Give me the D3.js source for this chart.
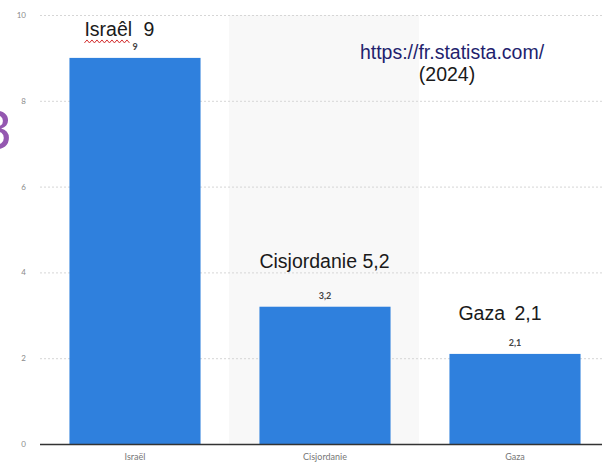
<!DOCTYPE html>
<meta charset="utf-8" />
<script src="https://d3js.org/d3.v7.min.js"></script>
<style>
	body { margin: 0; background: #fff; }
	svg { display: block; }
</style>
<div id="my_dataviz"></div>
<script>
	// data
	var categories = ["Israël", "Cisjordanie", "Gaza"];
	var values = [9, 3.2, 2.1];
	var valueLabels = ["9", "3,2", "2,1"];
	var yTicks = [0, 2, 4, 6, 8, 10];
	// hand-written notes laid over the chart
	var noteNames = ["Israêl", "Cisjordanie", "Gaza"];
	var noteValues = ["9", "5,2", "2,1"];

	var width = 602, height = 464;

	var svg = d3.select("#my_dataviz")
		.append("svg")
		.attr("width", width)
		.attr("height", height);

	var x = d3.scaleBand()
		.domain(categories)
		.range([40, 610])
		.paddingInner(0.31)
		.paddingOuter(0.155);

	var y = d3.scaleLinear()
		.domain([0, 10])
		.range([444, 15]);

	// shaded band behind the middle category
	svg.append("rect")
		.attr("x", x("Cisjordanie") - x.step() * x.paddingInner() / 2 - 1)
		.attr("y", y(10))
		.attr("width", x.step())
		.attr("height", y(0) - y(10))
		.attr("fill", "#f8f8f8");

	// grid lines
	svg.append("g")
		.selectAll("line")
		.data(yTicks.filter(d => d > 0))
		.join("line")
		.attr("x1", 40)
		.attr("x2", width)
		.attr("y1", d => y(d) + 0.5)
		.attr("y2", d => y(d) + 0.5)
		.attr("stroke", "#d6d6d6")
		.attr("stroke-dasharray", "2,2");

	// y tick labels
	svg.append("g")
		.selectAll("text")
		.data(yTicks)
		.join("text")
		.attr("x", 26)
		.attr("y", d => y(d) + 3)
		.attr("text-anchor", "end")
		.attr("font-family", "Lato, 'DejaVu Sans', sans-serif")
		.attr("font-size", 8)
		.attr("fill", "#8a8a8a")
		.text(d => d);

	// bars
	svg.append("g")
		.selectAll("rect")
		.data(values)
		.join("rect")
		.attr("x", (d, i) => x(categories[i]))
		.attr("y", d => y(d))
		.attr("width", x.bandwidth())
		.attr("height", d => y(0) - y(d))
		.attr("fill", "#2f80dd");

	// value labels above bars
	svg.append("g")
		.selectAll("text")
		.data(values)
		.join("text")
		.attr("x", (d, i) => x(categories[i]) + x.bandwidth() / 2)
		.attr("y", d => y(d) - 8)
		.attr("text-anchor", "middle")
		.attr("font-family", "Lato, 'DejaVu Sans', sans-serif")
		.attr("font-weight", "bold")
		.attr("font-size", 9)
		.attr("fill", "#444")
		.text((d, i) => valueLabels[i]);

	// baseline
	svg.append("line")
		.attr("x1", 40)
		.attr("x2", width)
		.attr("y1", y(0) + 0.5)
		.attr("y2", y(0) + 0.5)
		.attr("stroke", "#333")
		.attr("stroke-width", 1.5);

	// category labels
	svg.append("g")
		.selectAll("text")
		.data(categories)
		.join("text")
		.attr("x", d => x(d) + x.bandwidth() / 2)
		.attr("y", 460)
		.attr("text-anchor", "middle")
		.attr("font-family", "Lato, 'DejaVu Sans', sans-serif")
		.attr("font-size", 9)
		.attr("fill", "#777")
		.text(d => d);

	// annotations
	var noteFont = "'Liberation Sans', Arial, sans-serif";
	var notePos = [
		{ dx: 15, v: 9.5, gap: 59 },
		{ dx: 0, v: 4.1, gap: 103 },
		{ dx: 9, v: 2.9, gap: 56 }
	];
	var notes = svg.append("g")
		.attr("font-family", noteFont)
		.attr("font-size", 19.5)
		.attr("fill", "#1a1a1a");

	noteNames.forEach(function (name, i) {
		var px = x(categories[i]) + notePos[i].dx;
		var py = y(notePos[i].v);
		notes.append("text").attr("x", px).attr("y", py).text(name);
		notes.append("text").attr("x", px + notePos[i].gap).attr("y", py).text(noteValues[i]);
	});

	// red squiggly underline under "Israêl"
	var sx0 = x("Israël") + 15, sx1 = sx0 + 47, sy = y(9.5) + 5;
	var pts = d3.range(sx0, sx1 + 0.1, 2.5).map((px, i) => [px, sy + (i % 2 ? -1.5 : 1.5)]);
	svg.append("path")
		.attr("d", d3.line()(pts))
		.attr("fill", "none")
		.attr("stroke", "#d43030")
		.attr("stroke-width", 1);

	// source text
	svg.append("text")
		.attr("x", 452)
		.attr("y", 59)
		.attr("text-anchor", "middle")
		.attr("font-family", noteFont)
		.attr("font-size", 19.5)
		.attr("fill", "#231f6e")
		.text("https://fr.statista.com/");
	svg.append("text")
		.attr("x", 447)
		.attr("y", 81)
		.attr("text-anchor", "middle")
		.attr("font-family", noteFont)
		.attr("font-size", 19.5)
		.attr("fill", "#1a1a1a")
		.text("(2024)");

	// clipped purple glyph at the left edge
	svg.append("text")
		.attr("x", -20)
		.attr("y", 149)
		.attr("font-family", "'DejaVu Sans', sans-serif")
		.attr("font-size", 52)
		.attr("fill", "#9457b0")
		.text("3");
</script>
